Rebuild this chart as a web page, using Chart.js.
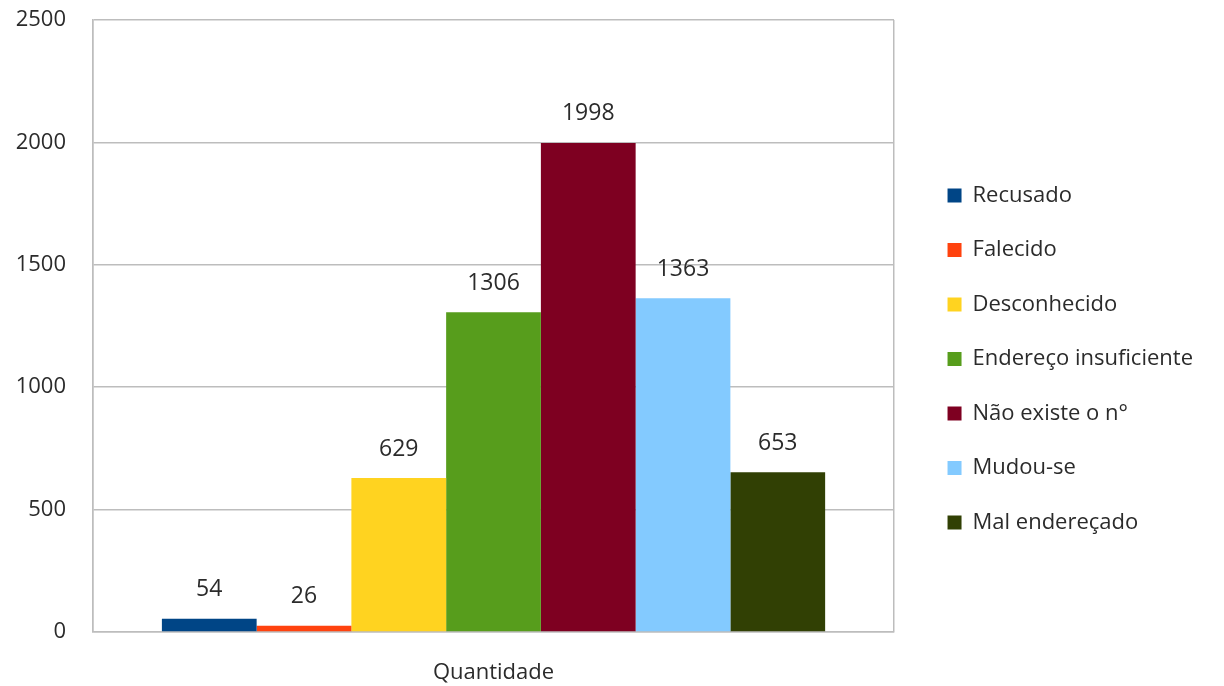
<!DOCTYPE html>
<html>
<head>
<meta charset="utf-8">
<script src="https://cdn.jsdelivr.net/npm/chart.js@4.4.1/dist/chart.umd.min.js"></script>
<style>
  html, body { margin: 0; padding: 0; background: #fff; }
  #wrap { width: 1224px; height: 686px; }
</style>
</head>
<body>
<div id="wrap"><canvas id="barDevolucoes"></canvas></div>
<script>
var categorias = ['Quantidade'];
var motivos = ['Recusado', 'Falecido', 'Desconhecido', 'Endereço insuficiente', 'Não existe o n°', 'Mudou-se', 'Mal endereçado'];
var quantidades = [54, 26, 629, 1306, 1998, 1363, 653];
var cores = ['#004586', '#ff420e', '#ffd320', '#579d1c', '#7e0021', '#83caff', '#314004'];
var ticksY = [0, 500, 1000, 1500, 2000, 2500];

var barDevolucoes;
var corGrade = '#bdbdbd';
var corTexto = '#2b2b2b';

// values written above each bar
var valoresNasBarras = {
  id: 'valoresNasBarras',
  afterDatasetsDraw: function (chart) {
    var ctx = chart.ctx;
    ctx.save();
    ctx.font = '23px "Open Sans"';
    ctx.fillStyle = corTexto;
    ctx.textAlign = 'center';
    ctx.textBaseline = 'middle';
    chart.data.datasets.forEach(function (ds, i) {
      chart.getDatasetMeta(i).data.forEach(function (bar, j) {
        ctx.fillText(ds.data[j], bar.x, bar.y - 29);
      });
    });
    ctx.restore();
  }
};

// push the legend a bit away from the plot and down
var legendaDeslocada = {
  id: 'legendaDeslocada',
  afterLayout: function (chart) {
    var l = chart.legend;
    l.left += 21; l.right += 21;
    l.top += 16; l.bottom += 16;
  }
};

function drawChart() {
  var datasets = motivos.map(function (nome, i) {
    return {
      label: nome,
      data: [quantidades[i]],
      backgroundColor: cores[i],
      borderWidth: 0
    };
  });

  barDevolucoes = new Chart(document.getElementById('barDevolucoes'), {
    type: 'bar',
    data: {
      labels: categorias,
      datasets: datasets
    },
    options: {
      responsive: true,
      maintainAspectRatio: false,
      animation: false,
      layout: { padding: { top: 0, right: 42, bottom: 0, left: 0 } },
      datasets: {
        bar: { barPercentage: 1, categoryPercentage: 0.828 }
      },
      scales: {
        x: {
          afterFit: function (scale) { scale.height = 54; },
          grid: { color: corGrade, lineWidth: 1.5, drawTicks: false, offset: true },
          border: { color: corGrade, width: 1.5 },
          ticks: { color: corTexto, font: { family: 'Open Sans', size: 22 }, padding: 28 }
        },
        y: {
          min: 0,
          max: 2500,
          afterBuildTicks: function (scale) {
            scale.ticks = ticksY.map(function (v) { return { value: v }; });
          },
          afterFit: function (scale) {
            scale.width = 93;
            scale.paddingTop = 20;
            scale.paddingBottom = 0;
          },
          grid: { color: corGrade, lineWidth: 1.5, drawTicks: false },
          border: { color: corGrade, width: 1.5 },
          ticks: {
            color: corTexto,
            font: { family: 'Open Sans', size: 22 },
            padding: 27,
            callback: function (v) { return String(v); }
          }
        }
      },
      plugins: {
        tooltip: { enabled: false },
        legend: {
          position: 'right',
          labels: {
            boxWidth: 14,
            boxHeight: 14,
            padding: 32.5,
            color: corTexto,
            font: { family: 'Open Sans', size: 22 }
          }
        }
      }
    },
    plugins: [valoresNasBarras, legendaDeslocada]
  });
}

document.fonts.load('22px "Open Sans"').then(drawChart, drawChart);
</script>
</body>
</html>
